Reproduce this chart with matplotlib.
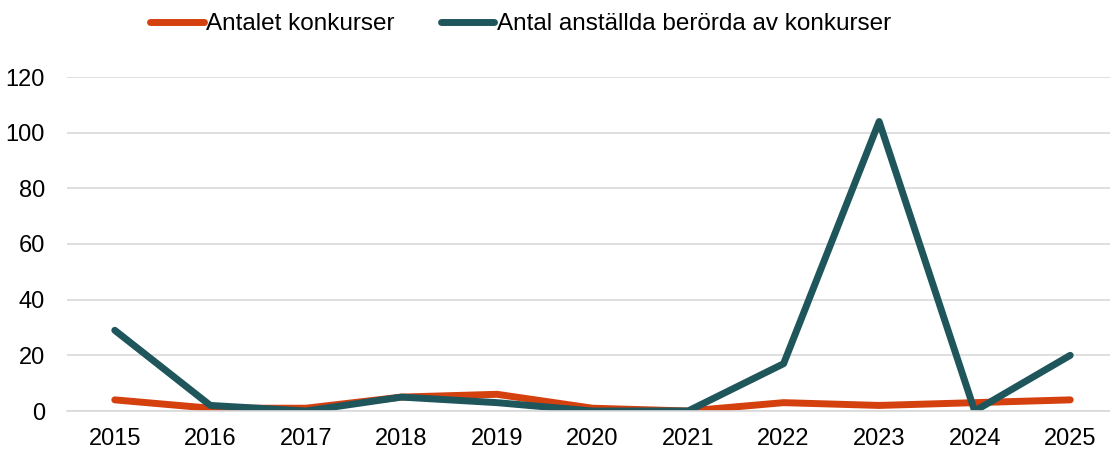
import matplotlib
matplotlib.use('Agg')
import matplotlib.pyplot as plt
import numpy as np

years = ['2015', '2016', '2017', '2018', '2019', '2020', '2021', '2022', '2023', '2024', '2025']
konkurser = [4, 1, 1, 5, 6, 1, 0, 3, 2, 3, 4]
anstallda = [29, 2, 0, 5, 3, 0, 0, 17, 104, 0, 20]

plt.rcParams['font.family'] = ['Liberation Sans', 'DejaVu Sans']

fig = plt.figure(figsize=(11.1, 4.5), dpi=100)
# plot area in pixels: x 67..1118 (clipped by figure edge), y 77..411
ax = fig.add_axes([67/1110, 1 - 411/450, (1118-67)/1110, (411-77)/450])

x = np.arange(len(years))
ax.plot(x, konkurser, color='#D5400F', lw=5, solid_capstyle='round',
        solid_joinstyle='round', label='Antalet konkurser')
ax.plot(x, anstallda, color='#1F565C', lw=5, solid_capstyle='round',
        solid_joinstyle='round', label='Antal anställda berörda av konkurser')

ax.set_xlim(-0.5, 10.5)
ax.set_ylim(0, 120)
ax.set_yticks(range(0, 121, 20))
ax.set_xticks(x)
ax.set_xticklabels(years)
ax.tick_params(axis='both', length=0, labelsize=17)
ax.tick_params(axis='x', pad=12)
ax.tick_params(axis='y', pad=16)
ax.grid(axis='y', color='#D9D9D9', lw=1.2)
ax.set_axisbelow(True)
for s in ['top', 'right', 'left']:
    ax.spines[s].set_visible(False)
ax.spines['bottom'].set_color('#D9D9D9')
ax.spines['bottom'].set_linewidth(1.2)

fig.legend(loc='center', bbox_to_anchor=(0.469, 1 - 24/450), ncol=2, frameon=False,
           fontsize=17.5, handlelength=2.2, handletextpad=0.1, columnspacing=1.9)

fig.savefig('out.png', dpi=100)
